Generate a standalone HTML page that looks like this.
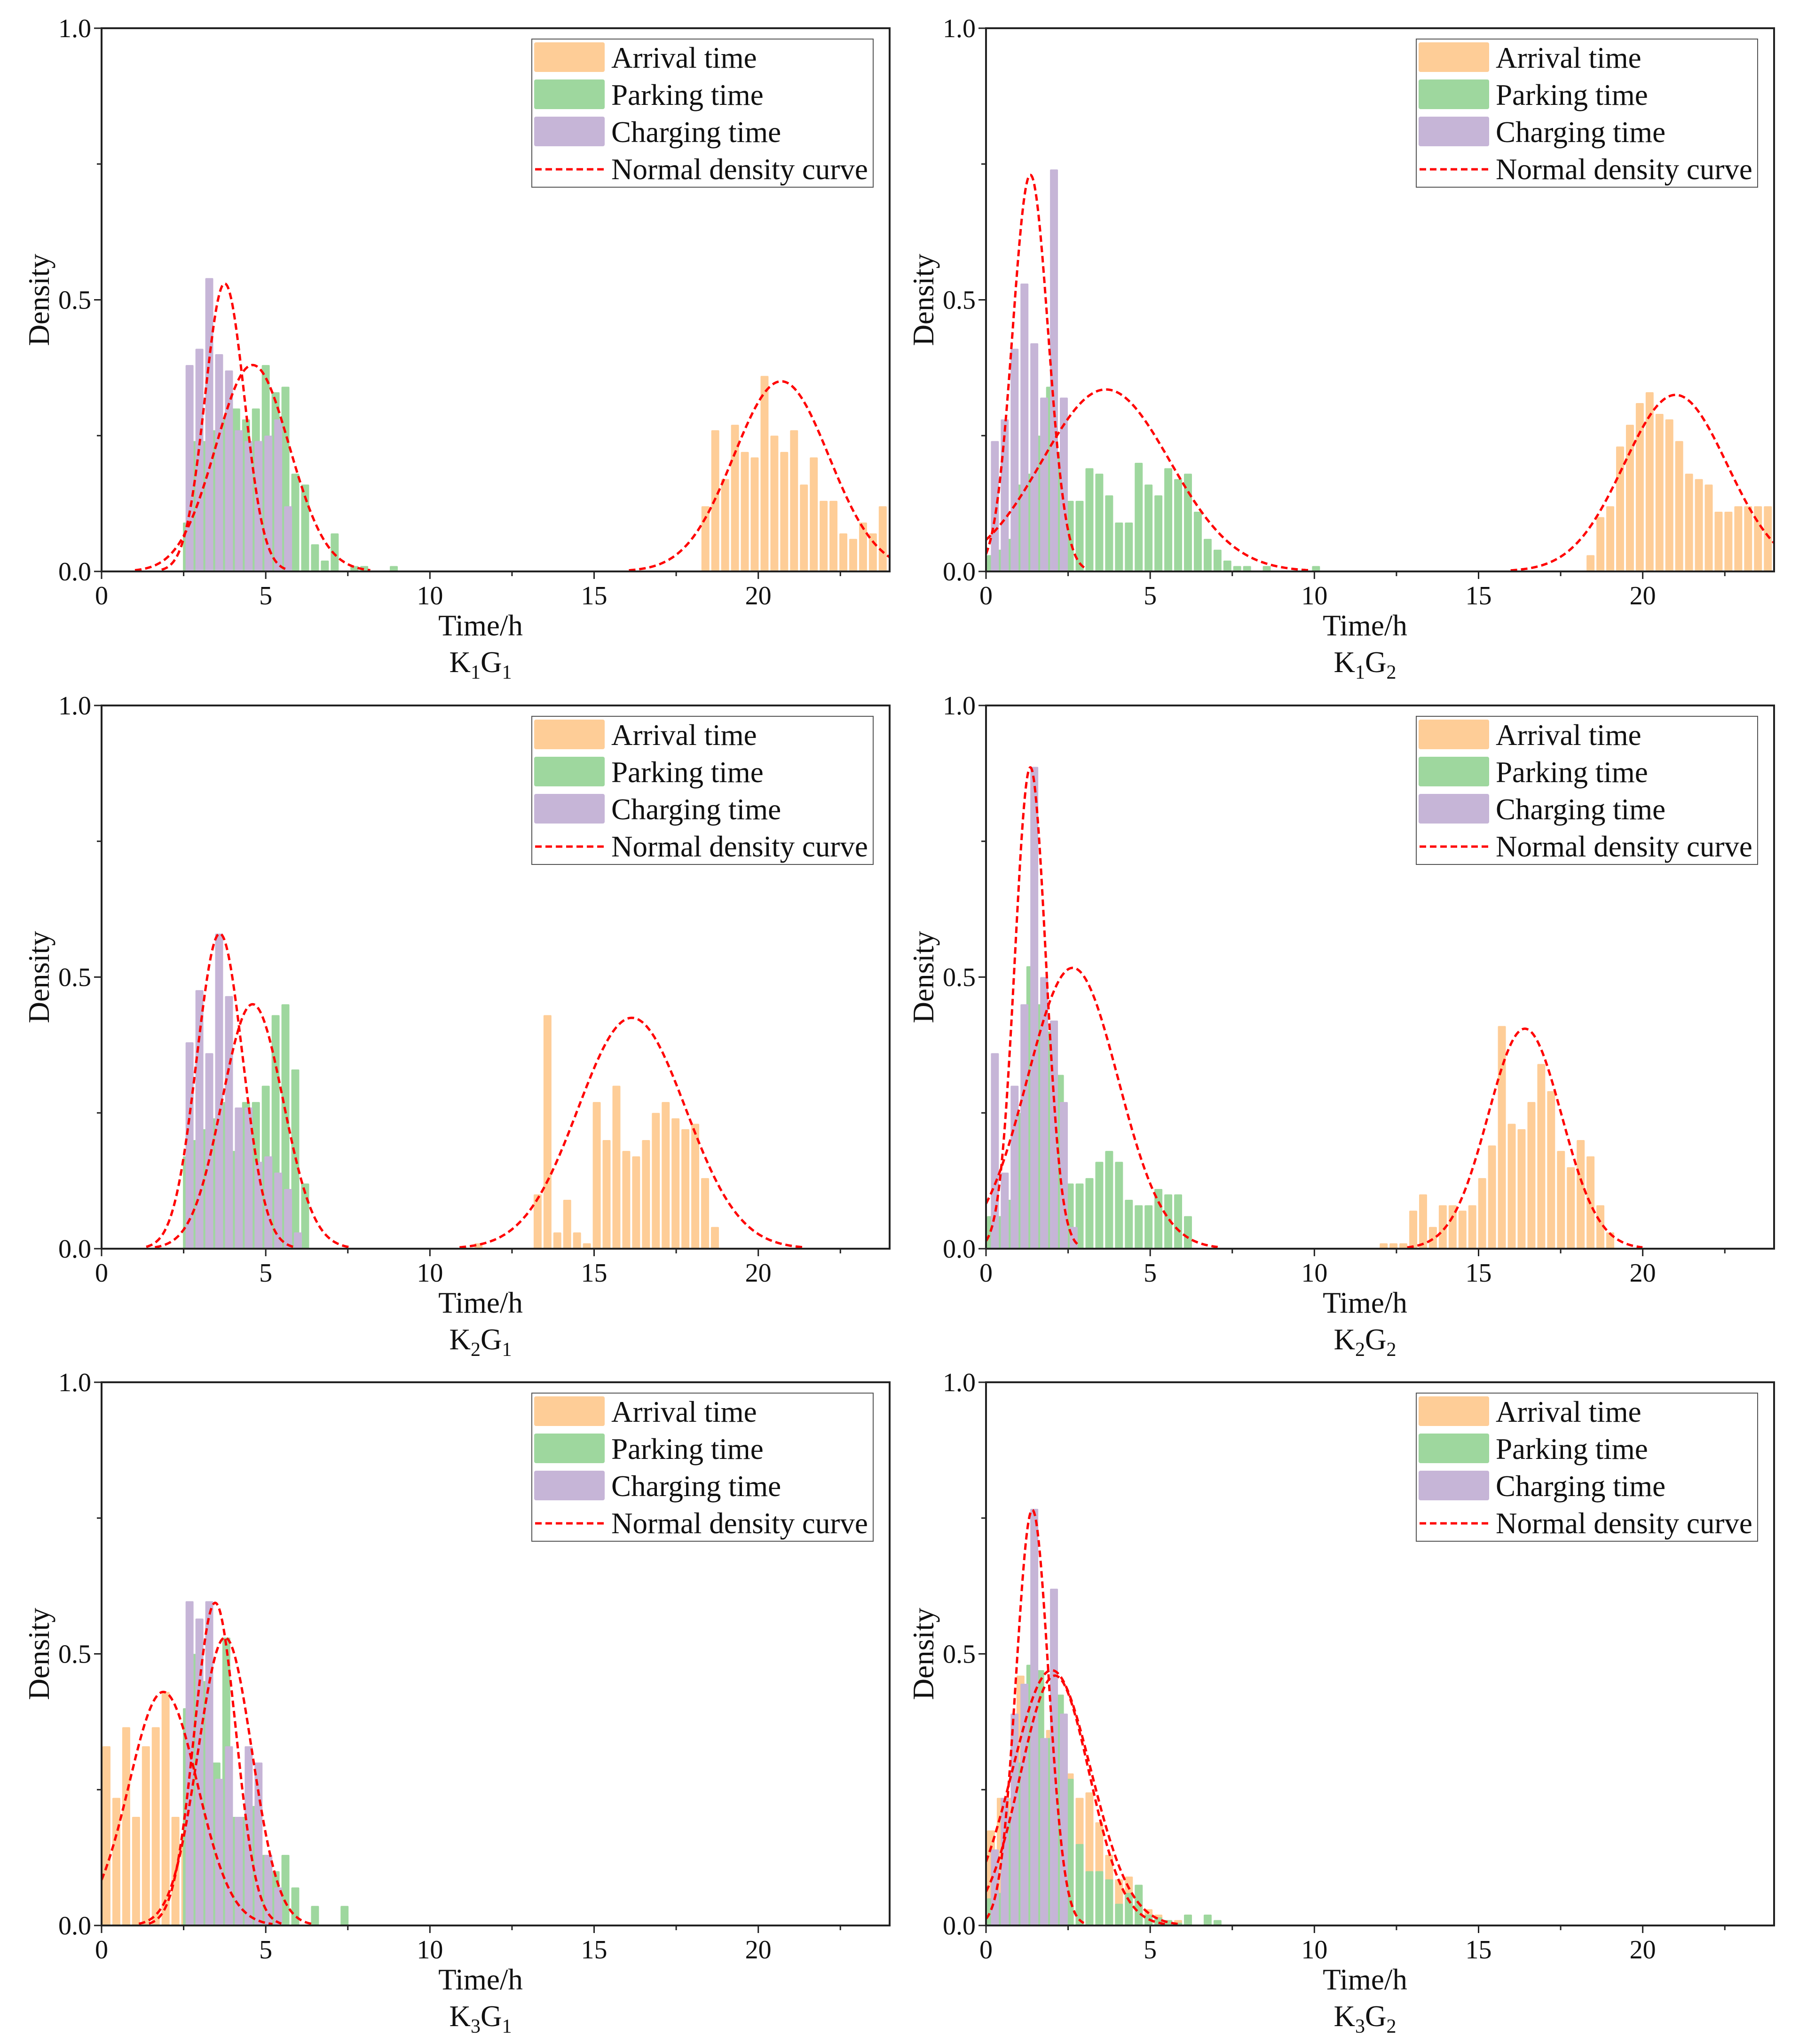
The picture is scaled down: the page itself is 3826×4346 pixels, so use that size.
<!DOCTYPE html>
<html><head><meta charset="utf-8"><title>Density histograms</title>
<style>
html,body{margin:0;padding:0;background:#fff;}
svg{display:block;font-family:"Liberation Serif","Times New Roman",serif;}
</style></head>
<body>
<svg id="chart" xmlns="http://www.w3.org/2000/svg" width="3826" height="4346" viewBox="0 0 3826 4346"></svg>
<script>
// ---- data (bin width 0.3 h) ----
const panelNames = ["K1G1","K1G2","K2G1","K2G2","K3G1","K3G2"];
const binWidth = 0.3;
const xTicks = [0,5,10,15,20];
const yTicks = [0,0.5,1.0];
const yTickLabels = ["0.0","0.5","1.0"];

const k1g1ArrivalStart = 18.24;
const k1g1Arrival = [0.12,0.26,0.17,0.27,0.22,0.21,0.36,0.25,0.22,0.26,0.16,0.21,0.13,0.13,0.07,0.06,0.09,0.07,0.12];
const k1g1ParkingStart = 2.45;
const k1g1Parking = [0.09,0.24,0.24,0.26,0.28,0.30,0.28,0.30,0.38,0.33,0.34,0.18,0.16,0.05,0.02,0.07,0,0.01,0.01,0,0,0.01];
const k1g1ChargingStart = 2.53;
const k1g1Charging = [0.38,0.41,0.54,0.40,0.37,0.26,0.24,0.24,0.25,0.28,0.12];
const k1g1Curves = [[20.7,1.45,0.35],[4.6,1.12,0.38],[3.75,0.6,0.53]];

const k1g2ArrivalStart = 18.26;
const k1g2Arrival = [0.03,0.10,0.12,0.23,0.27,0.31,0.33,0.29,0.28,0.24,0.18,0.17,0.16,0.11,0.11,0.12,0.12,0.12,0.12];
const k1g2ParkingStart = 0.0;
const k1g2Parking = [0.03,0.04,0.06,0.16,0.18,0.25,0.34,0.22,0.13,0.13,0.19,0.18,0.14,0.09,0.09,0.20,0.16,0.14,0.19,0.17,0.18,0.11,0.06,0.04,0.02,0.01,0.01,0,0.01,0,0,0,0,0.01];
const k1g2ChargingStart = 0.12;
const k1g2Charging = [0.24,0.28,0.41,0.53,0.42,0.32,0.74,0.32];
const k1g2Curves = [[21.0,1.57,0.325],[3.65,1.95,0.335],[1.35,0.54,0.73]];

const k2g1ArrivalStart = 11.33;
const k2g1Arrival = [0.01,0,0,0,0,0,0.10,0.43,0.03,0.09,0.03,0.01,0.27,0.20,0.30,0.18,0.17,0.20,0.25,0.27,0.24,0.22,0.23,0.13,0.04];
const k2g1ParkingStart = 2.45;
const k2g1Parking = [0.17,0.20,0.22,0.24,0.27,0.18,0.27,0.27,0.30,0.43,0.45,0.33,0.12];
const k2g1ChargingStart = 2.53;
const k2g1Charging = [0.38,0.476,0.36,0.58,0.465,0.26,0.26,0.16,0.17,0.14,0.11,0.03];
const k2g1Curves = [[16.15,1.64,0.425],[4.6,0.93,0.45],[3.6,0.70,0.58]];

const k2g2ArrivalStart = 11.96;
const k2g2Arrival = [0.01,0.01,0.01,0.07,0.10,0.04,0.08,0.08,0.07,0.08,0.13,0.19,0.41,0.23,0.22,0.27,0.34,0.29,0.18,0.15,0.20,0.17,0.08,0.03];
const k2g2ParkingStart = 0.0;
const k2g2Parking = [0.06,0.06,0.09,0.25,0.52,0.45,0.40,0.32,0.12,0.12,0.13,0.16,0.18,0.16,0.09,0.08,0.08,0.11,0.10,0.10,0.06];
const k2g2ChargingStart = 0.12;
const k2g2Charging = [0.36,0.14,0.30,0.45,0.887,0.50,0.42,0.27,0.04];
const k2g2Curves = [[16.41,1.12,0.405],[2.64,1.38,0.517],[1.35,0.47,0.886]];

const k3g1ArrivalStart = 0.0;
const k3g1Arrival = [0.33,0.235,0.365,0.20,0.33,0.365,0.43,0.20,0.17];
const k3g1ParkingStart = 2.45;
const k3g1Parking = [0.40,0.50,0.45,0.30,0.53,0.20,0.20,0.22,0.13,0.10,0.13,0.07,0,0.036,0,0,0.036];
const k3g1ChargingStart = 2.53;
const k3g1Charging = [0.597,0.565,0.597,0.27,0.33,0.20,0.33,0.30,0.13,0.07];
const k3g1Curves = [[1.88,1.04,0.43],[3.76,0.82,0.53],[3.46,0.63,0.594]];

const k3g2ArrivalStart = 0.0;
const k3g2Arrival = [0.175,0.235,0.235,0.46,0.42,0.40,0.36,0.33,0.28,0.235,0.245,0.19,0.13,0.085,0.09,0.05,0.03,0.02,0.01,0.01,0.02];
const k3g2ParkingStart = 0.0;
const k3g2Parking = [0.05,0.06,0.20,0.30,0.48,0.47,0.345,0.425,0.27,0.15,0.10,0.10,0.085,0.04,0.06,0.075,0.02,0.015,0.01,0.005,0.02,0,0.02,0.01];
const k3g2ChargingStart = 0.12;
const k3g2Charging = [0.14,0.235,0.39,0.445,0.767,0.345,0.62,0.39];
const k3g2Curves = [[2.0,1.2,0.47],[2.1,1.05,0.46],[1.41,0.49,0.765]];

const panelData = [
 [k1g1ArrivalStart,k1g1Arrival,k1g1ParkingStart,k1g1Parking,k1g1ChargingStart,k1g1Charging,k1g1Curves],
 [k1g2ArrivalStart,k1g2Arrival,k1g2ParkingStart,k1g2Parking,k1g2ChargingStart,k1g2Charging,k1g2Curves],
 [k2g1ArrivalStart,k2g1Arrival,k2g1ParkingStart,k2g1Parking,k2g1ChargingStart,k2g1Charging,k2g1Curves],
 [k2g2ArrivalStart,k2g2Arrival,k2g2ParkingStart,k2g2Parking,k2g2ChargingStart,k2g2Charging,k2g2Curves],
 [k3g1ArrivalStart,k3g1Arrival,k3g1ParkingStart,k3g1Parking,k3g1ChargingStart,k3g1Charging,k3g1Curves],
 [k3g2ArrivalStart,k3g2Arrival,k3g2ParkingStart,k3g2Parking,k3g2ChargingStart,k3g2Charging,k3g2Curves]
];
const seriesNames = ["Arrival time","Parking time","Charging time"];
const seriesColors = ["#FECD97","#9ED79E","#C6B5D7"];

// ---- drawing ----
const NS = "http://www.w3.org/2000/svg";
const svg = document.getElementById("chart");
function mk(tag, attrs, parent){
  const e = document.createElementNS(NS, tag);
  for (const k in attrs) e.setAttribute(k, attrs[k]);
  (parent||svg).appendChild(e);
  return e;
}
const rowTops = [60, 1500, 2939];
const colLefts = [216, 2097];
const plotW = 1676, plotH = 1155;

panelNames.forEach((name, pi) => {
  const col = pi % 2, row = Math.floor(pi / 2);
  const L = colLefts[col], T = rowTops[row], B = T + plotH, R = L + plotW;
  const xs = v => L + v / 24 * plotW;
  const ys = v => B - v * plotH;
  const g = mk("g", {});
  
  
  const d = panelData[pi];
  const clipId = "clip" + pi;
  const cp = mk("clipPath", {id: clipId}, g);
  mk("rect", {x: L, y: T, width: plotW, height: plotH}, cp);
  const inner = mk("g", {"clip-path": "url(#" + clipId + ")"}, g);
  // bars
  for (let s = 0; s < 3; s++) {
    const start = d[s*2], vals = d[s*2+1];
    vals.forEach((v, i) => {
      if (v <= 0) return;
      const x0 = xs(start + i*binWidth), x1 = xs(start + (i+1)*binWidth);
      const r = mk("rect", {x: x0 + 2, y: ys(v), width: Math.max(1, x1 - x0 - 4), height: B - ys(v), fill: seriesColors[s], rx: 2}, inner);
      
      
    });
  }
  // curves
  d[6].forEach((c, ci) => {
    const [mu, sd, pk] = c;
    let pts = [];
    const a = Math.max(0, mu - 3.2*sd), b = Math.min(24, mu + 3.2*sd);
    for (let k = 0; k <= 200; k++) {
      const x = a + (b - a) * k / 200;
      const y = pk * Math.exp(-((x - mu)**2) / (2*sd*sd));
      pts.push(xs(x).toFixed(1) + "," + ys(y).toFixed(1));
    }
    const p = mk("polyline", {points: pts.join(" "), fill: "none", stroke: "#FF0000", "stroke-width": 5, "stroke-dasharray": "14 8"}, inner);
    
    
  });
  // frame
  const fr = mk("rect", {x: L, y: T, width: plotW, height: plotH, fill: "none", stroke: "#222", "stroke-width": 4}, g);
  
  
  // x ticks
  for (let v = 0; v <= 24; v += 2.5) {
    const major = (v % 5 === 0);
    mk("line", {x1: xs(v), x2: xs(v), y1: B, y2: B + (major ? 16 : 10), stroke: "#222", "stroke-width": 3}, g);
  }
  xTicks.forEach(v => {
    const t = mk("text", {x: xs(v), y: B + 70, "font-size": 56, "text-anchor": "middle", fill: "#111"}, g);
    t.textContent = v;
    
    
  });
  // y ticks
  for (let v = 0; v <= 1.0001; v += 0.25) {
    const major = Math.abs(v*2 - Math.round(v*2)) < 1e-6;
    mk("line", {x1: L - (major ? 16 : 10), x2: L, y1: ys(v), y2: ys(v), stroke: "#222", "stroke-width": 3}, g);
  }
  yTicks.forEach((v, i) => {
    const t = mk("text", {x: L - 22, y: ys(v) + 19, "font-size": 56, "text-anchor": "end", fill: "#111"}, g);
    t.textContent = yTickLabels[i];
    
    
  });
  // axis titles
  const xt = mk("text", {x: (L + R)/2 - 32, y: B + 136, "font-size": 63, "text-anchor": "middle", fill: "#111"}, g);
  xt.textContent = "Time/h";
  
  
  const yx = L - 133, yy = (T + B)/2;
  const yt = mk("text", {x: yx, y: yy, "font-size": 63, "text-anchor": "middle", fill: "#111", transform: "rotate(-90 " + yx + " " + yy + ")", dy: 21}, g);
  yt.textContent = "Density";
  
  
  // subtitle
  const st = mk("text", {x: (L + R)/2 - 32, y: B + 214, "font-size": 63, "text-anchor": "middle", fill: "#111"}, g);
  
  
  const parts = [["K",0],[name[1],1],["G",0],[name[3],1]];
  parts.forEach(([txt, sub], idx) => {
    const ts = mk("tspan", sub ? {"font-size": 42, dy: 14} : {dy: idx === 0 ? 0 : -14}, st);
    ts.textContent = txt;
  });
  // legend
  const lx = L + 915, ly = T + 23;
  const lg = mk("g", {}, g);
  
  
  mk("rect", {x: lx, y: ly, width: 726, height: 315, fill: "#fff", stroke: "#555", "stroke-width": 2}, lg);
  const labels = ["Arrival time","Parking time","Charging time","Normal density curve"];
  labels.forEach((lab, i) => {
    const e = mk("g", {}, lg);
    
    
    if (i < 3) {
      mk("rect", {x: lx + 5, y: ly + 7 + i*79, width: 150, height: 63, fill: seriesColors[i], rx: 4}, e);
    } else {
      mk("line", {x1: lx + 7, x2: lx + 155, y1: ly + 277, y2: ly + 277, stroke: "#FF0000", "stroke-width": 5, "stroke-dasharray": "14 8"}, e);
    }
    const t = mk("text", {x: lx + 169, y: ly + 61 + i*79, "font-size": 63, fill: "#111"}, e);
    t.textContent = lab;
  });
});
</script>
</body></html>
